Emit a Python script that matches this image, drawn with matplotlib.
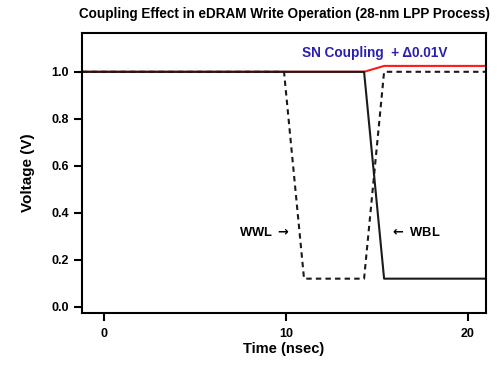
import matplotlib
matplotlib.use("Agg")
import matplotlib.pyplot as plt

plt.rcParams['font.family'] = ['Liberation Sans', 'DejaVu Sans']
plt.rcParams['font.weight'] = 'bold'

# Data (time in nsec, voltage in V)
sn_t = [-1.2, 14.3, 15.4, 21.0]
sn_v = [1.0, 1.0, 1.025, 1.025]
wbl_t = [-1.2, 14.3, 15.4, 21.0]
wbl_v = [1.0, 1.0, 0.12, 0.12]
wwl_t = [-1.2, 9.9, 11.0, 14.3, 15.4, 21.0]
wwl_v = [1.0, 1.0, 0.12, 0.12, 1.0, 1.0]
xticks = [0, 10, 20]
yticks = [0.0, 0.2, 0.4, 0.6, 0.8, 1.0]

fig = plt.figure(figsize=(4.98, 3.68), dpi=100)
ax = fig.add_axes([0.1647, 0.1495, 0.9759 - 0.1647, 0.9103 - 0.1495])

ax.plot(sn_t, sn_v, color='#ff1a1a', lw=1.5, solid_joinstyle='miter')
ax.plot(wbl_t, wbl_v, color='#1a1a1a', lw=1.5)
ax.plot(wwl_t, wwl_v, color='#1a1a1a', lw=1.5, ls=(0, (2.6, 2.0)))

ax.set_xlim(-1.2, 21.0)
ax.set_ylim(-0.026, 1.165)
ax.set_xticks(xticks)
ax.set_xticklabels([str(v) for v in xticks])
ax.set_yticks(yticks)
ax.set_yticklabels([f"{v:.1f}" for v in yticks])

for s in ax.spines.values():
    s.set_linewidth(1.5)
ax.tick_params(direction='out', length=5.5, width=1.5, labelsize=9, pad=4)
ax.tick_params(axis='x', pad=5)

ax.set_xlabel('Time (nsec)', fontsize=10.5, fontweight='bold', labelpad=2)
ax.set_ylabel('Voltage (V)', fontsize=11, fontweight='bold', labelpad=12)
fig.text(0.571, 0.962, 'Coupling Effect in eDRAM Write Operation (28-nm LPP Process)',
         ha='center', va='center', fontsize=9.75, fontweight='bold')

ax.text(14.9, 1.08, 'SN Coupling  + \u03940.01V', color='#2b1fb0', fontsize=9.8,
        fontweight='bold', ha='center', va='center')
ax.text(10.2, 0.318, r'WWL $\rightarrow$', fontsize=9.3, fontweight='bold', ha='right', va='center')
ax.text(15.75, 0.318, r'$\leftarrow$ WBL', fontsize=9.3, fontweight='bold', ha='left', va='center')

fig.savefig('out.png', dpi=100)
